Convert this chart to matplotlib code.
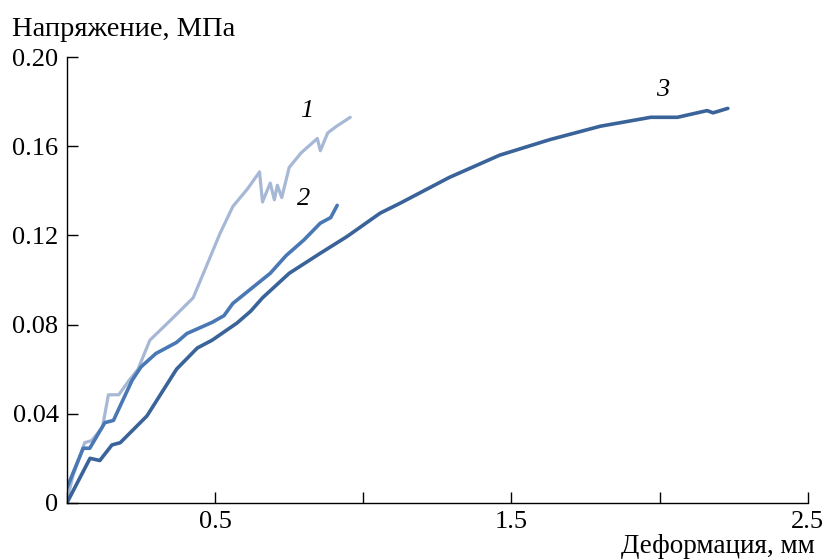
import matplotlib.pyplot as plt

plt.rcParams['font.family'] = ['Liberation Serif', 'DejaVu Serif']

# кривая 1
x1 = [0, 0.02, 0.06, 0.084, 0.12, 0.14, 0.175, 0.21, 0.24, 0.28, 0.35, 0.426, 0.47,
      0.517, 0.56, 0.61, 0.65, 0.66, 0.686, 0.70, 0.71, 0.725, 0.75, 0.79, 0.845,
      0.855, 0.88, 0.91, 0.956]
y1 = [0.001, 0.012, 0.027, 0.028, 0.034, 0.0485, 0.0485, 0.055, 0.060, 0.073, 0.082, 0.092, 0.106,
      0.121, 0.133, 0.141, 0.1485, 0.135, 0.1435, 0.136, 0.1425, 0.137, 0.1505, 0.157, 0.1635,
      0.158, 0.166, 0.169, 0.173]

# кривая 2
x2 = [0, 0.055, 0.077, 0.128, 0.157, 0.22, 0.25, 0.30, 0.37, 0.405, 0.49, 0.53, 0.56,
      0.63, 0.686, 0.74, 0.80, 0.855, 0.89, 0.912]
y2 = [0.0067, 0.0245, 0.0245, 0.036, 0.037, 0.055, 0.061, 0.067, 0.072, 0.076, 0.081, 0.084, 0.0895,
      0.097, 0.103, 0.111, 0.118, 0.1255, 0.128, 0.1335]

# кривая 3
x3 = [0, 0.078, 0.111, 0.152, 0.18, 0.27, 0.37, 0.44, 0.49, 0.574, 0.62, 0.66, 0.75, 0.855,
      0.945, 1.057, 1.125, 1.29, 1.46, 1.63, 1.80, 1.97, 2.06, 2.16, 2.18, 2.23]
y3 = [0, 0.020, 0.019, 0.026, 0.027, 0.039, 0.060, 0.0695, 0.073, 0.0807, 0.086, 0.092, 0.103, 0.112,
      0.1195, 0.130, 0.1345, 0.146, 0.156, 0.163, 0.169, 0.173, 0.173, 0.176, 0.175, 0.177]

fig = plt.figure(figsize=(8.26, 5.6), dpi=100)
ax = fig.add_axes([0.081, 0.102, 0.897, 0.796])

ax.plot(x1, y1, color='#a7b8d6', lw=2.3, solid_capstyle='round')
ax.plot(x2, y2, color='#4a78b4', lw=2.6, solid_capstyle='round')
ax.plot(x3, y3, color='#3a6399', lw=2.6, solid_capstyle='round')

ax.text(0.81, 0.171, '1', fontsize=19, style='italic', ha='center', va='bottom')
ax.text(0.80, 0.1315, '2', fontsize=19, style='italic', ha='center', va='bottom')
ax.text(2.01, 0.1805, '3', fontsize=19, style='italic', ha='center', va='bottom')

ax.set_xlim(0, 2.5)
ax.set_ylim(0, 0.20)
ax.set_xticks([0, 0.5, 1.0, 1.5, 2.0, 2.5])
ax.set_xticklabels(['', '0.5', '', '1.5', '', '2.5'])
ax.set_yticks([0, 0.04, 0.08, 0.12, 0.16, 0.20])
ax.set_yticklabels(['0', '0.04', '0.08', '0.12', '0.16', '0.20'])
ax.tick_params(direction='in', length=8, width=1, labelsize=19, pad=6)

for s in ['top', 'right']:
    ax.spines[s].set_visible(False)
for s in ['left', 'bottom']:
    ax.spines[s].set_linewidth(1)

fig.text(12 / 826, 1 - 36 / 560, 'Напряжение, МПа', fontsize=20.5, ha='left', va='baseline')
fig.text(815 / 826, 1 - 553 / 560, 'Деформация, мм', fontsize=19.5, ha='right', va='baseline')

fig.savefig('out.png', dpi=100)
